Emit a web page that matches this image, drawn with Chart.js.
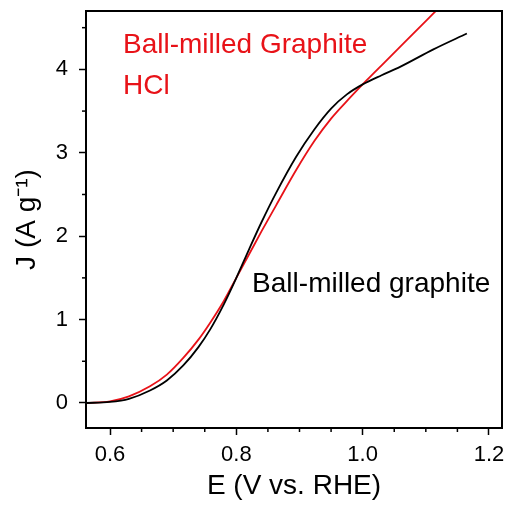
<!DOCTYPE html>
<html>
<head>
<meta charset="utf-8">
<script src="https://cdn.jsdelivr.net/npm/chart.js@4.4.1/dist/chart.umd.min.js"></script>
<style>
  html, body { margin: 0; padding: 0; background: #fff; }
  #wrap { width: 509px; height: 506px; }
</style>
</head>
<body>
<div id="wrap"><canvas id="chartLsv"></canvas></div>
<script>
// LSV curves
const eBallMilled = [0.562, 0.6, 0.63, 0.6633, 0.69, 0.716, 0.74, 0.7584, 0.78, 0.8, 0.82, 0.84, 0.863, 0.8945, 0.9235, 0.95, 0.975, 1.0, 1.03, 1.0592, 1.112, 1.165];
const jBallMilled = [0.0, 0.012, 0.05, 0.15, 0.27, 0.45, 0.67, 0.88, 1.18, 1.5, 1.84, 2.17, 2.52, 2.95, 3.28, 3.53, 3.7, 3.82, 3.93, 4.03, 4.24, 4.43];

const eHcl = [0.562, 0.6, 0.63, 0.6633, 0.69, 0.716, 0.74, 0.7584, 0.78, 0.8, 0.82, 0.84, 0.863, 0.8945, 0.9235, 0.95, 0.98, 1.0065, 1.0328, 1.0698, 1.1015, 1.13];
const jHcl = [0.0, 0.02, 0.08, 0.2, 0.34, 0.54, 0.76, 0.96, 1.22, 1.5, 1.78, 2.06, 2.37, 2.79, 3.14, 3.41, 3.66, 3.87, 4.07, 4.35, 4.59, 4.81];

const xTicks = [0.6, 0.8, 1.0, 1.2];
const xMinor = [0.65, 0.7, 0.75, 0.85, 0.9, 0.95, 1.05, 1.1, 1.15];
const yTicks = [0, 1, 2, 3, 4];
const yMinor = [0.5, 1.5, 2.5, 3.5, 4.5];

const RED = "rgb(232, 18, 24)";
const FONT = "'Liberation Sans', Arial, sans-serif";

const notes = [
  { text: "Ball-milled Graphite", x: 0.6206, y: 4.2, color: RED },
  { text: "HCl", x: 0.6206, y: 3.7, color: RED },
  { text: "Ball-milled graphite", x: 0.825, y: 1.335, color: "#000" },
];

function toPoints(xs, ys) {
  return xs.map((x, i) => ({ x: x, y: ys[i] }));
}

// frame, minor ticks and in-plot labels
const decor = {
  id: "decor",
  afterDraw(chart) {
    const ctx = chart.ctx;
    const a = chart.chartArea;
    const xs = chart.scales.x, ys = chart.scales.y;
    ctx.save();
    ctx.strokeStyle = "#000";
    ctx.lineWidth = 1.5;
    xMinor.forEach(v => {
      const px = xs.getPixelForValue(v);
      ctx.beginPath(); ctx.moveTo(px, a.bottom); ctx.lineTo(px, a.bottom + 4); ctx.stroke();
    });
    yMinor.forEach(v => {
      const py = ys.getPixelForValue(v);
      ctx.beginPath(); ctx.moveTo(a.left, py); ctx.lineTo(a.left - 4, py); ctx.stroke();
    });
    ctx.lineWidth = 2;
    ctx.strokeRect(a.left, a.top, a.right - a.left, a.bottom - a.top);

    ctx.font = "28px " + FONT;
    ctx.textBaseline = "alphabetic";
    notes.forEach(n => {
      ctx.fillStyle = n.color;
      ctx.fillText(n.text, xs.getPixelForValue(n.x), ys.getPixelForValue(n.y));
    });
    ctx.restore();
  }
};

function noEdgePad(s) {
  s.paddingTop = 0; s.paddingBottom = 0; s.paddingLeft = 0; s.paddingRight = 0;
}

new Chart(document.getElementById("chartLsv"), {
  type: "scatter",
  data: {
    datasets: [
      {
        label: "Ball-milled graphite",
        data: toPoints(eBallMilled, jBallMilled),
        showLine: true,
        borderColor: "#000",
        borderWidth: 1.8,
        pointRadius: 0,
        cubicInterpolationMode: "monotone",
      },
      {
        label: "Ball-milled Graphite HCl",
        data: toPoints(eHcl, jHcl),
        showLine: true,
        borderColor: RED,
        borderWidth: 1.8,
        pointRadius: 0,
        cubicInterpolationMode: "monotone",
      },
    ],
  },
  options: {
    responsive: true,
    maintainAspectRatio: false,
    animation: false,
    layout: { padding: { top: 11, right: 7, left: 0, bottom: 0 } },
    plugins: { legend: { display: false }, tooltip: { enabled: false } },
    scales: {
      x: {
        type: "linear",
        min: 0.562,
        max: 1.2206,
        afterBuildTicks: s => { s.ticks = xTicks.map(v => ({ value: v })); },
        afterFit: s => { s.height = 78; noEdgePad(s); },
        grid: { drawOnChartArea: false, tickLength: 7, tickColor: "#000", tickWidth: 1.5 },
        border: { display: false },
        ticks: {
          color: "#000",
          padding: 7,
          maxRotation: 0,
          font: { family: FONT, size: 22 },
          callback: v => v.toFixed(1),
        },
        title: {
          display: true,
          text: "E (V vs. RHE)",
          color: "#000",
          font: { family: FONT, size: 28 },
          padding: { top: 0, bottom: 3 },
        },
      },
      y: {
        type: "linear",
        min: -0.3,
        max: 4.7,
        afterBuildTicks: s => { s.ticks = yTicks.map(v => ({ value: v })); },
        afterFit: s => { s.width = 86; noEdgePad(s); },
        grid: { drawOnChartArea: false, tickLength: 7, tickColor: "#000", tickWidth: 1.5 },
        border: { display: false },
        ticks: {
          color: "#000",
          padding: 11,
          font: { family: FONT, size: 22 },
          callback: v => String(v),
        },
        title: {
          display: true,
          text: "J (A g\u207B\u00B9)",
          color: "#000",
          font: { family: FONT, size: 28 },
          padding: { top: 10, bottom: 0 },
        },
      },
    },
  },
  plugins: [decor],
});
</script>
</body>
</html>
